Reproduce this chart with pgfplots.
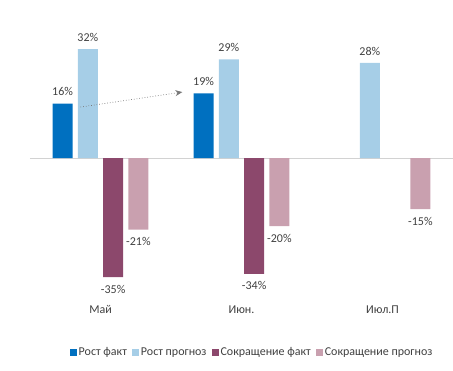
\documentclass[border=0pt]{standalone}
\usepackage{pgfplots}
\pgfplotsset{compat=1.18}
\usepackage{fontspec}
\setmainfont{Carlito}
\usetikzlibrary{arrows.meta}
\definecolor{c1}{RGB}{0,112,192}
\definecolor{c2}{RGB}{166,206,231}
\definecolor{c3}{RGB}{140,72,108}
\definecolor{c4}{RGB}{201,160,175}
\definecolor{txt}{RGB}{64,64,64}
\definecolor{zline}{RGB}{210,210,210}
\definecolor{arr}{RGB}{120,120,120}
\begin{document}
\begin{tikzpicture}[x=1pt,y=1pt]
\path[use as bounding box] (0,0) rectangle (453,371);
\begin{axis}[at={(30pt,70pt)}, anchor=south west, scale only axis,
  width=423pt, height=279pt,
  xmin=-0.5, xmax=2.5, ymin=-42, ymax=40,
  ybar=5.3pt, bar width=20pt,
  axis line style={draw=none},
  ytick=\empty, xtick={0,1,2}, xticklabels={Май,Июн.,Июл.П},
  major tick length=0pt,
  ticklabel style={font=\fontsize{12}{14}\selectfont, text=txt},
  xticklabel style={yshift=-1pt},
  /pgf/number format/assume math mode=true,
  nodes near coords={\pgfmathprintnumber{\pgfplotspointmeta}\%},
  every node near coord/.append style={font=\fontsize{12}{14}\selectfont, text=txt, inner sep=7.5pt},
  legend columns=-1,
  legend style={draw=none, fill=none, at={(0.525,-0.183)}, anchor=center,
    font=\fontsize{12}{14}\selectfont, text=txt,
    /tikz/every even column/.append style={column sep=3pt},
    inner sep=0pt},
  legend image code/.code={\fill[#1] (0pt,-3.5pt) rectangle (7pt,3.5pt);},
  clip=false,
]
\draw[zline, line width=0.8pt] (axis cs:-0.5,0) -- (axis cs:2.5,0);
\addplot[fill=c1, draw=none] coordinates {(0,16) (1,19)};
\addplot[fill=c2, draw=none] coordinates {(0,32) (1,29) (2,28)};
\addplot[fill=c3, draw=none] coordinates {(0,-35) (1,-34)};
\addplot[fill=c4, draw=none] coordinates {(0,-21) (1,-20) (2,-15)};
\legend{Рост факт, Рост прогноз, Сокращение факт, Сокращение прогноз}
\draw[arr, line width=0.7pt, dotted, -{Stealth[length=7pt,width=6pt]}] (axis cs:-0.142,15) -- (axis cs:0.58,19.4);
\end{axis}
\end{tikzpicture}
\end{document}
